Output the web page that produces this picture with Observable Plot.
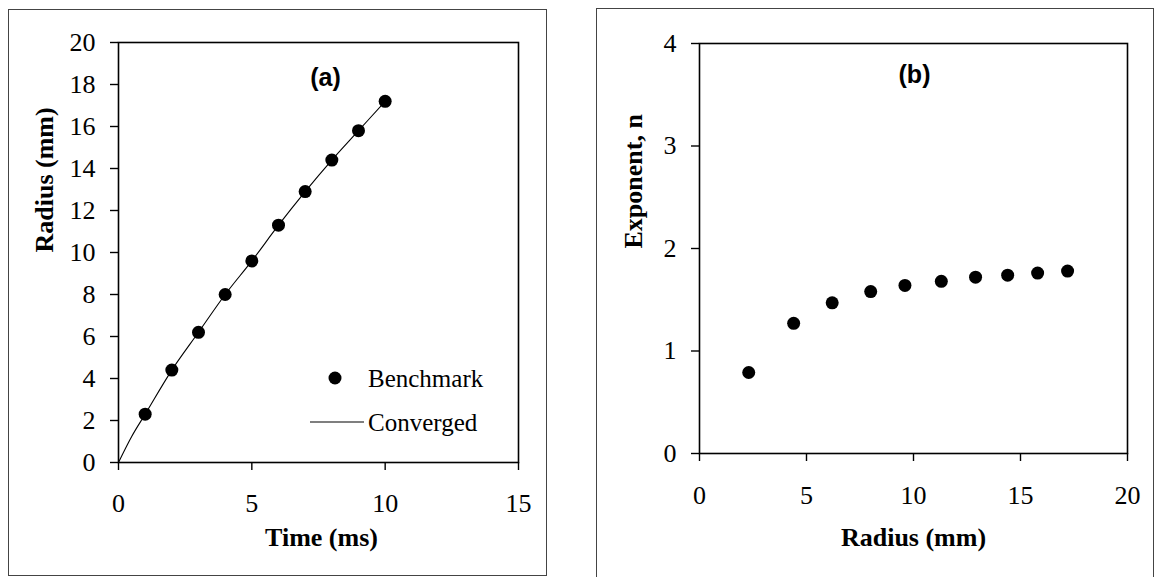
<!DOCTYPE html>
<html>
<head>
<meta charset="utf-8">
<script src="https://cdn.jsdelivr.net/npm/d3@7"></script>
<script src="https://cdn.jsdelivr.net/npm/@observablehq/plot@0.6"></script>
<style>
  html, body { margin: 0; padding: 0; background: #fff; }
  #page { position: relative; width: 1156px; height: 577px; overflow: hidden; background: #fff; }
  .box { position: absolute; border: 1px solid #444; box-sizing: border-box; }
  .panel { position: absolute; top: 0; }
</style>
</head>
<body>
<div id="page">
  <div class="box" style="left:8px; top:9px; width:539px; height:567px;"></div>
  <div class="box" style="left:596px; top:8px; width:558px; height:580px;"></div>
  <div class="panel" id="panelA" style="left:0px;"></div>
  <div class="panel" id="panelB" style="left:578px;"></div>
</div>
<script>
// Panel (a): bubble radius against time
const benchmarkTime = [1, 2, 3, 4, 5, 6, 7, 8, 9, 10];
const benchmarkRadius = [2.3, 4.4, 6.2, 8.0, 9.6, 11.3, 12.9, 14.4, 15.8, 17.2];
const convergedTime = [0, 0.5, 1, 2, 3, 4, 5, 6, 7, 8, 9, 10];
const convergedRadius = [0, 1.25, 2.3, 4.4, 6.2, 8.0, 9.6, 11.3, 12.9, 14.4, 15.8, 17.2];
const timeTicks = [0, 5, 10, 15];
const radiusTicks = [0, 2, 4, 6, 8, 10, 12, 14, 16, 18, 20];

// Panel (b): growth exponent against radius
const exponentRadius = [2.3, 4.4, 6.2, 8.0, 9.6, 11.3, 12.9, 14.4, 15.8, 17.2];
const exponentValue = [0.79, 1.27, 1.47, 1.58, 1.64, 1.68, 1.72, 1.74, 1.76, 1.78];
const radiusAxisTicks = [0, 5, 10, 15, 20];
const exponentTicks = [0, 1, 2, 3, 4];

const benchmark = benchmarkTime.map((t, i) => ({t, r: benchmarkRadius[i]}));
const converged = convergedTime.map((t, i) => ({t, r: convergedRadius[i]}));
const exponents = exponentRadius.map((r, i) => ({r, n: exponentValue[i]}));

const serif = "Liberation Serif";
const sans = "Liberation Sans";
const baseStyle = {fontFamily: serif, fontSize: "26px", color: "black", background: "transparent", overflow: "visible"};
const fmt = d3.format("d");

function axes(xTicks, yTicks, xPad, yPad) {
  return [
    Plot.axisX({ticks: xTicks, tickFormat: fmt, tickSize: 8, tickPadding: xPad, fontSize: 26, fontFamily: serif, label: null, stroke: "black", strokeWidth: 1.4}),
    Plot.axisY({ticks: yTicks, tickFormat: fmt, tickSize: 8, tickPadding: yPad, fontSize: 26, fontFamily: serif, label: null, stroke: "black", strokeWidth: 1.4})
  ];
}

const plotA = Plot.plot({
  width: 578, height: 577,
  marginLeft: 118, marginRight: 60, marginTop: 42, marginBottom: 115,
  style: baseStyle,
  x: {domain: [0, 15]},
  y: {domain: [0, 20]},
  marks: [
    ...axes(timeTicks, radiusTicks, 23, 15),
    Plot.frame({stroke: "black", strokeWidth: 1.6}),
    Plot.line(converged, {x: "t", y: "r", stroke: "black", strokeWidth: 1.1, curve: "monotone-x"}),
    Plot.dot(benchmark, {x: "t", y: "r", r: 6.5, fill: "black", stroke: "none"}),
    Plot.text(["(a)"], {text: d => d, frameAnchor: "top", dx: 7, dy: 26, fontFamily: sans, fontWeight: "bold", fontSize: 25}),
    Plot.text(["Time (ms)"], {text: d => d, frameAnchor: "bottom", dx: 3, dy: 83, fontFamily: serif, fontWeight: "bold", fontSize: 26}),
    Plot.text(["Radius (mm)"], {text: d => d, frameAnchor: "left", dx: -74, rotate: -90, fontFamily: serif, fontWeight: "bold", fontSize: 26})
  ]
});
document.getElementById("panelA").appendChild(plotA);

// Legend inside panel (a)
const legend = d3.select(plotA).append("g")
  .attr("font-family", serif).attr("font-size", 25).attr("text-anchor", "start").attr("fill", "black");
legend.append("circle").attr("cx", 335).attr("cy", 378).attr("r", 6.5).attr("fill", "black");
legend.append("text").attr("x", 368).attr("y", 378).attr("dy", "0.35em").text("Benchmark");
legend.append("line").attr("x1", 310).attr("x2", 364).attr("y1", 422).attr("y2", 422).attr("stroke", "black").attr("stroke-width", 1.1);
legend.append("text").attr("x", 368).attr("y", 422).attr("dy", "0.35em").text("Converged");

const plotB = Plot.plot({
  width: 578, height: 577,
  marginLeft: 121, marginRight: 29, marginTop: 43, marginBottom: 124,
  style: baseStyle,
  x: {domain: [0, 20]},
  y: {domain: [0, 4]},
  marks: [
    ...axes(radiusAxisTicks, exponentTicks, 24, 15),
    Plot.frame({stroke: "black", strokeWidth: 1.6}),
    Plot.dot(exponents, {x: "r", y: "n", r: 6.5, fill: "black", stroke: "none"}),
    Plot.text(["(b)"], {text: d => d, frameAnchor: "top", dx: 1, dy: 22, fontFamily: sans, fontWeight: "bold", fontSize: 25}),
    Plot.text(["Radius (mm)"], {text: d => d, frameAnchor: "bottom", dy: 92, fontFamily: serif, fontWeight: "bold", fontSize: 26}),
    Plot.text(["Exponent, n"], {text: d => d, frameAnchor: "left", dx: -66, rotate: -90, fontFamily: serif, fontWeight: "bold", fontSize: 26})
  ]
});
document.getElementById("panelB").appendChild(plotB);
</script>
</body>
</html>
